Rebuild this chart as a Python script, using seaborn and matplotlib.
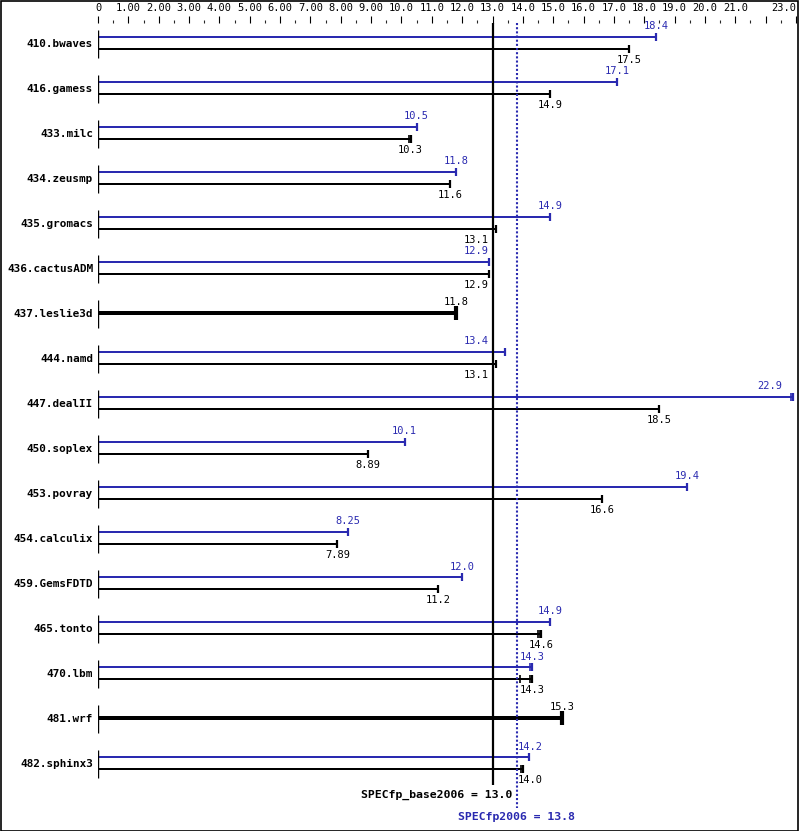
import numpy as np
import pandas as pd
import matplotlib
matplotlib.use("Agg")
import matplotlib.pyplot as plt
from matplotlib.patches import Rectangle
import seaborn as sns

# ---------------- data ----------------
benchmarks = ["410.bwaves", "416.gamess", "433.milc", "434.zeusmp", "435.gromacs",
              "436.cactusADM", "437.leslie3d", "444.namd", "447.dealII", "450.soplex",
              "453.povray", "454.calculix", "459.GemsFDTD", "465.tonto", "470.lbm",
              "481.wrf", "482.sphinx3"]
peak_values = [18.4, 17.1, 10.5, 11.8, 14.9, 12.9, None, 13.4, 22.9, 10.1,
               19.4, 8.25, 12.0, 14.9, 14.3, None, 14.2]
base_values = [17.5, 14.9, 10.3, 11.6, 13.1, 12.9, 11.8, 13.1, 18.5, 8.89,
               16.6, 7.89, 11.2, 14.6, 14.3, 15.3, 14.0]
peak_labels = ["18.4", "17.1", "10.5", "11.8", "14.9", "12.9", "", "13.4", "22.9", "10.1",
               "19.4", "8.25", "12.0", "14.9", "14.3", "", "14.2"]
base_labels = ["17.5", "14.9", "10.3", "11.6", "13.1", "12.9", "11.8", "13.1", "18.5", "8.89",
               "16.6", "7.89", "11.2", "14.6", "14.3", "15.3", "14.0"]
base_other_runs_bench = ["433.milc", "465.tonto", "465.tonto", "470.lbm", "470.lbm", "482.sphinx3"]
base_other_runs_value = [10.25, 14.5, 14.55, 13.9, 14.25, 13.95]
peak_other_runs_bench = ["447.dealII", "470.lbm"]
peak_other_runs_value = [22.85, 14.25]

tick_values = list(range(0, 24))
tick_labels = ["0", "1.00", "2.00", "3.00", "4.00", "5.00", "6.00", "7.00", "8.00", "9.00",
               "10.0", "11.0", "12.0", "13.0", "14.0", "15.0", "16.0", "17.0", "18.0",
               "19.0", "20.0", "21.0", "", "23.0"]

base_score = 13.0
peak_score = 13.8
base_score_label = "SPECfp_base2006 = 13.0"
peak_score_label = "SPECfp2006 = 13.8"

# ---------------- style ----------------
BLUE = "#2a2ab0"
BLACK = "#000000"
sns.set_style("white")
plt.rcParams["font.family"] = ["DejaVu Sans Mono", "DejaVu Sans"]

W, H = 799, 831
fig = plt.figure(figsize=(W / 100, H / 100), dpi=100)
fig.patch.set_facecolor("white")

x_left, x_right = 98, 796
top_px = 23
ax = fig.add_axes([x_left / W, 0, (x_right - x_left) / W, (H - top_px) / H])
ax.patch.set_alpha(0)

row_px = 45.0
off = 6.0 / row_px  # offset of the two bars from the row centre
px_per_unit = (x_right - x_left) / 23.0

# ---------------- build tables ----------------
thin_rows = []
thick_rows = []
for i, b in enumerate(benchmarks):
    if peak_values[i] is None:
        thick_rows.append(dict(bench=b, pos=float(i), value=base_values[i], series="base"))
    else:
        thin_rows.append(dict(bench=b, pos=i - off, value=peak_values[i], series="peak"))
        thin_rows.append(dict(bench=b, pos=i + off, value=base_values[i], series="base"))
thin = pd.DataFrame(thin_rows)
thick = pd.DataFrame(thick_rows)
palette = {"peak": BLUE, "base": BLACK}

min_thin = np.min(np.diff(np.unique(thin["pos"])))
sns.barplot(data=thin, x="value", y="pos", hue="series", palette=palette, orient="y",
            native_scale=True, width=(2.2 / row_px) / min_thin, dodge=False,
            errorbar=None, saturation=1, linewidth=0, legend=False, ax=ax)
min_thick = np.min(np.diff(np.unique(thick["pos"])))
sns.barplot(data=thick, x="value", y="pos", hue="series", palette=palette, orient="y",
            native_scale=True, width=(4.0 / row_px) / min_thick, dodge=False,
            errorbar=None, saturation=1, linewidth=0, legend=False, ax=ax)

# end caps
sns.scatterplot(data=thin, x="value", y="pos", hue="series", palette=palette, marker="|",
                s=28, linewidth=1.6, legend=False, ax=ax, zorder=4)
sns.scatterplot(data=thick, x="value", y="pos", hue="series", palette=palette, marker="|",
                s=95, linewidth=3.0, legend=False, ax=ax, zorder=4)

# other-run ticks
idx = {b: i for i, b in enumerate(benchmarks)}
ob = pd.DataFrame(dict(value=base_other_runs_value,
                       pos=[idx[b] + off for b in base_other_runs_bench]))
op = pd.DataFrame(dict(value=peak_other_runs_value,
                       pos=[idx[b] - off for b in peak_other_runs_bench]))
sns.scatterplot(data=ob, x="value", y="pos", color=BLACK, marker="|", s=28, linewidth=1.2,
                legend=False, ax=ax, zorder=4)
sns.scatterplot(data=op, x="value", y="pos", color=BLUE, marker="|", s=28, linewidth=1.2,
                legend=False, ax=ax, zorder=4)


def label_x(value, text):
    """Centre the label on the bar end, but keep it clear of the score lines."""
    half = len(text) * 6.3 / 2 / px_per_unit
    gap = 4 / px_per_unit
    c = value
    if c - half < base_score + 0.02 and c + half > base_score - 0.02:
        c = base_score - gap - half
    elif c - half < peak_score and c + half > peak_score:
        c = peak_score + 1 / px_per_unit + half
    right_limit = 23.0 - 14 / px_per_unit
    if c + half > right_limit:
        c = right_limit - half
    return c


# value labels
for i, b in enumerate(benchmarks):
    if peak_values[i] is None:
        ax.text(label_x(base_values[i], base_labels[i]), i - 10.5 / row_px, base_labels[i],
                ha="center", va="center", fontsize=7.5, color=BLACK)
    else:
        ax.text(label_x(peak_values[i], peak_labels[i]), i - off - 10.5 / row_px,
                peak_labels[i], ha="center", va="center", fontsize=7.5, color=BLUE)
        ax.text(label_x(base_values[i], base_labels[i]), i + off + 11 / row_px,
                base_labels[i], ha="center", va="center", fontsize=7.5, color=BLACK)

# left axis segments per benchmark
for i in range(len(benchmarks)):
    ax.plot([0, 0], [i - 13 / row_px, i + 15 / row_px], color=BLACK, lw=1, zorder=5,
            solid_capstyle="butt")

# limits
y_top = -20 / row_px
y_bot = y_top + (H - top_px) / row_px
ax.set_xlim(0, 23.0)
ax.set_ylim(y_bot, y_top)

# score lines
ax.plot([base_score, base_score], [y_top, (785 - 43) / row_px], color=BLACK, lw=1.6,
        zorder=3, solid_capstyle="butt")
ax.plot([peak_score, peak_score], [y_top, (808 - 43) / row_px], color=BLUE, lw=1.5,
        linestyle=(0, (1, 1)), zorder=3)
ax.text(peak_score - 0.15, (795 - 43) / row_px, base_score_label, ha="right", va="center",
        fontsize=8.25, fontweight="bold", color=BLACK)
ax.text(peak_score, (817 - 43) / row_px, peak_score_label, ha="center", va="center",
        fontsize=8.25, fontweight="bold", color=BLUE)

# axes styling
for s in ax.spines.values():
    s.set_visible(False)
ax.set_xlabel("")
ax.set_ylabel("")
ax.xaxis.tick_top()
ax.set_xticks(tick_values)
ax.set_xticklabels(tick_labels)
ax.set_xticks(np.arange(0.5, 23, 1.0), minor=True)
ax.tick_params(axis="x", which="major", top=True, bottom=False, length=5, width=0.8,
               direction="out", pad=2.5, labelsize=7.5, colors=BLACK)
ax.tick_params(axis="x", which="minor", top=True, bottom=False, length=2.2, width=0.8,
               direction="out")
last = ax.get_xticklabels()[-1]
last.set_ha("right")

ax.set_yticks(range(len(benchmarks)))
ax.set_yticklabels(benchmarks, fontsize=7.9, fontweight="bold")
ax.tick_params(axis="y", length=0, pad=3.5, colors=BLACK)
ax.grid(False)

# figure border
fig.add_artist(Rectangle((0.5 / W, 0.5 / H), (W - 1.5) / W, (H - 1.5) / H,
                         transform=fig.transFigure, fill=False, edgecolor=BLACK,
                         linewidth=1.2, zorder=10))

fig.savefig("out.png", dpi=100, facecolor="white")
